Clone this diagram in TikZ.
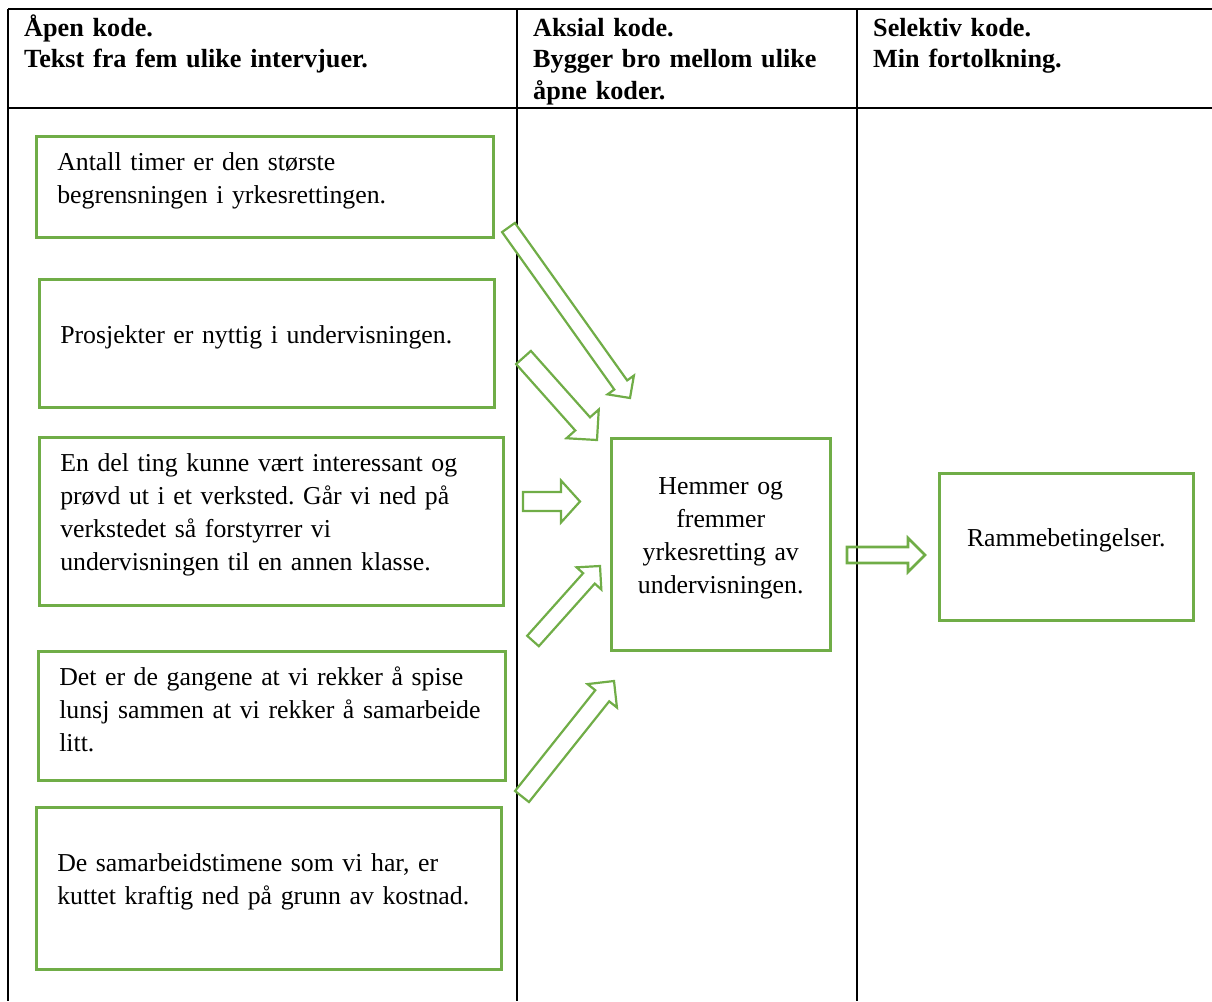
\documentclass[tikz,border=0pt]{standalone}
\usepackage{fontspec}
\setmainfont{Liberation Serif}
\usetikzlibrary{calc}
\definecolor{kodegreen}{RGB}{112, 173, 71}
\hyphenpenalty=10000
\exhyphenpenalty=10000
\frenchspacing

% luft under teksten i boksene
\newcommand{\liftkern}{\par\kern12pt}

% blokkpil: [stil]{hale}{spiss}{halv skaftbredde}{halv hodebredde}{hodelengde}
\newcommand{\blockarrow}[6][]{%
  \coordinate (ba-h) at ($(#3)!#6pt!(#2)$);
  \draw[pil, #1]
    ($(#2)!#4pt!90:(#3)$) -- ($(ba-h)!#4pt!90:(#3)$) -- ($(ba-h)!#5pt!90:(#3)$)
    -- (#3)
    -- ($(ba-h)!#5pt!-90:(#3)$) -- ($(ba-h)!#4pt!-90:(#3)$) -- ($(#2)!#4pt!-90:(#3)$)
    -- cycle;}

\begin{document}
\begin{tikzpicture}[x=1pt, y=-1pt,
  tabline/.style={line width=2pt, black},
  headtxt/.style={anchor=base west, align=left, inner sep=0pt,
    font=\fontsize{26.2}{31.5}\selectfont\bfseries},
  kodebox/.style={draw=kodegreen, line width=2.5pt, anchor=north west,
    align=left, inner xsep=21pt, inner ysep=0pt,
    font=\fontsize{25.8}{33}\selectfont,
    execute at end node=\liftkern},
  midbox/.style={kodebox, align=center, inner xsep=8pt},
  pil/.style={draw=kodegreen, line width=2.2pt, fill=white, line join=miter}]

  \useasboundingbox (0,0) rectangle (1212,1001);

  % tabell
  \draw[tabline] (8,9) -- (1212,9);
  \draw[tabline] (8,108) -- (1212,108);
  \draw[tabline] (8,9) -- (8,1001);
  \draw[tabline] (517,9) -- (517,1001);
  \draw[tabline] (857,9) -- (857,1001);

  % overskrifter
  \node[headtxt, text width=480] (hapen) at (24,36)
    {Åpen kode.\\Tekst fra fem ulike intervjuer.};
  \node[headtxt, text width=310] (haksial) at (533,36)
    {Aksial kode.\\Bygger bro mellom ulike\\åpne koder.};
  \node[headtxt, text width=330] (hselektiv) at (873,36)
    {Selektiv kode.\\Min fortolkning.};

  % åpne koder
  \node[kodebox, text width=415, minimum height=101] (b1) at (35,135)
    {Antall timer er den største\\begrensningen i yrkesrettingen.};
  \node[kodebox, text width=413, minimum height=128] (b2) at (38,278)
    {Prosjekter er nyttig i undervisningen.};
  \node[kodebox, text width=422, minimum height=168] (b3) at (38,436)
    {En del ting kunne vært interessant og\\prøvd ut i et verksted. Går vi ned på\\verkstedet så forstyrrer vi\\undervisningen til en annen klasse.};
  \node[kodebox, text width=425, minimum height=129] (b4) at (37,650)
    {Det er de gangene at vi rekker å spise\\lunsj sammen at vi rekker å samarbeide\\litt.};
  \node[kodebox, text width=423, minimum height=162] (b5) at (35,806)
    {De samarbeidstimene som vi har, er\\kuttet kraftig ned på grunn av kostnad.};

  % aksial og selektiv kode
  \node[midbox, text width=203, minimum height=212] (aksial) at (610,437)
    {Hemmer og\\fremmer\\yrkesretting av\\undervisningen.};
  \node[midbox, text width=238, minimum height=147] (selektiv) at (938,472)
    {Rammebetingelser.};

  % piler
  \coordinate (hale1) at (508.5,227.5);  \coordinate (spiss1) at (630,398);
  \coordinate (hale2) at (523.5,357.5);  \coordinate (spiss2) at (597,440);
  \coordinate (hale3) at (523,501.5);    \coordinate (spiss3) at (580,501.5);
  \coordinate (hale4) at (533,641);      \coordinate (spiss4) at (600,566);
  \coordinate (hale5) at (522,796.5);    \coordinate (spiss5) at (614,681);
  \coordinate (hale6) at (847,555);      \coordinate (spiss6) at (925,555);

  \blockarrow{hale1}{spiss1}{7.9}{16.2}{16}
  \blockarrow{hale2}{spiss2}{9.9}{21.6}{21.6}
  \blockarrow{hale3}{spiss3}{9.5}{21}{19}
  \blockarrow{hale4}{spiss4}{7.8}{16.6}{16.6}
  \blockarrow{hale5}{spiss5}{8.9}{18.8}{18.9}
  \blockarrow[fill=none, line width=2.6pt]{hale6}{spiss6}{8}{17}{17}

\end{tikzpicture}
\end{document}
